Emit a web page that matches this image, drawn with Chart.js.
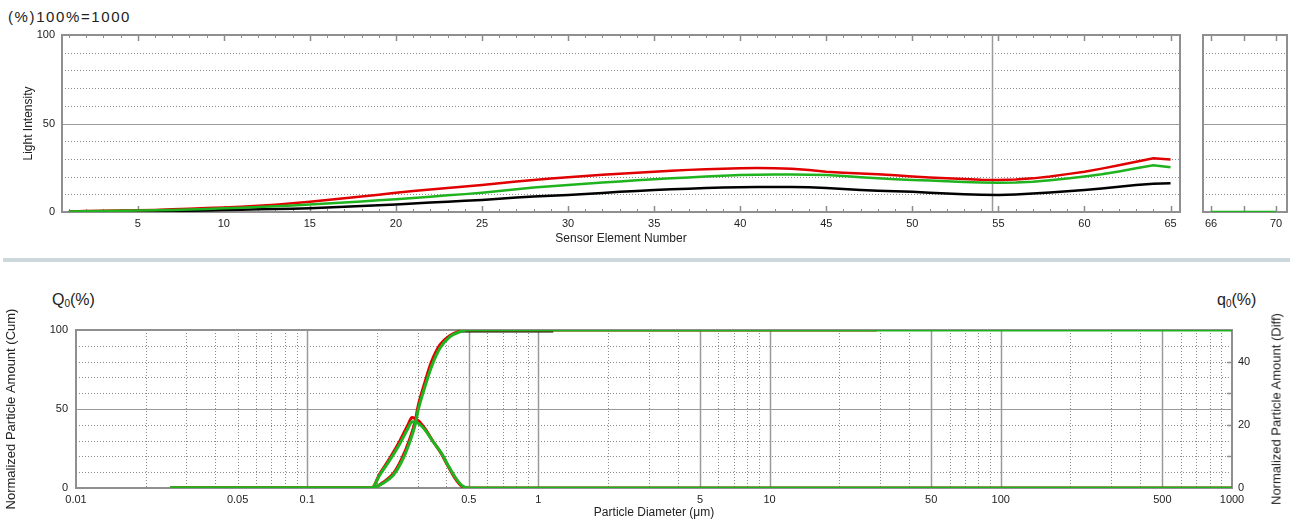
<!DOCTYPE html>
<html>
<head>
<meta charset="utf-8">
<title>Light intensity / particle distribution</title>
<script src="https://cdn.jsdelivr.net/npm/chart.js@4.4.1/dist/chart.umd.min.js"></script>
<style>
  body { margin: 0; width: 1290px; height: 524px; background: #fff; position: relative; overflow: hidden;
         font-family: "Liberation Sans", Arial, sans-serif; color: #222; }
  canvas { position: absolute; }
  .lbl { position: absolute; white-space: nowrap; color: #222; }
  #head { left: 8px; top: 8px; font-size: 15px; letter-spacing: 1.6px; }
  #sep { position: absolute; left: 3px; top: 258px; width: 1287px; height: 4px; background: #cdd8dc; }
  #Q0 { left: 52px; top: 291px; font-size: 16px; }
  #q0 { left: 1217px; top: 291px; font-size: 16px; }
  .lbl sub { font-size: 10px; vertical-align: -2px; }
  #diffTitle { left: 1276px; top: 409px; font-size: 13px; transform: translate(-50%, -50%) rotate(-90deg); }
</style>
</head>
<body>
<div class="lbl" id="head">(%)100%=1000</div>
<canvas id="top" width="1195" height="250" style="left:0;top:0"></canvas>
<canvas id="tail" width="95" height="250" style="left:1195px;top:0"></canvas>
<div id="sep"></div>
<div class="lbl" id="Q0">Q<sub>0</sub>(%)</div>
<div class="lbl" id="q0">q<sub>0</sub>(%)</div>
<canvas id="bottom" width="1290" height="244" style="left:0;top:280px"></canvas>
<div class="lbl" id="diffTitle">Normalized Particle Amount (Diff)</div>

<script>
// ---- top panel data (light intensity per sensor element) ----
const sensorElements = [1, 2, 3, 4, 5, 6, 7, 8, 9, 10, 11, 12, 13, 14, 15, 16, 17, 18, 19, 20,
  21, 22, 23, 24, 25, 26, 27, 28, 29, 30, 31, 32, 33, 34, 35, 36, 37, 38, 39, 40,
  41, 42, 43, 44, 45, 46, 47, 48, 49, 50, 51, 52, 53, 54, 55, 56, 57, 58, 59, 60,
  61, 62, 63, 64, 65]
const redIntensity = [0.3, 0.5, 0.7, 0.9, 1.0, 1.2, 1.5, 1.8, 2.2, 2.6, 3.0, 3.5, 4.1, 4.9, 5.8, 6.8, 7.8, 8.8, 9.8, 10.9,
  11.8, 12.7, 13.6, 14.4, 15.2, 16.2, 17.2, 18.1, 18.9, 19.6, 20.3, 21.0, 21.6, 22.2, 22.8, 23.3, 23.8, 24.2, 24.5, 24.7,
  24.8, 24.7, 24.4, 23.7, 22.8, 22.2, 21.7, 21.3, 20.7, 20.0, 19.5, 19.0, 18.6, 18.2, 18.1, 18.4, 19.0, 20.0, 21.4, 22.8,
  24.5, 26.4, 28.4, 30.3, 29.6]
const greenIntensity = [0.3, 0.4, 0.5, 0.65, 0.8, 1.0, 1.2, 1.45, 1.75, 2.1, 2.4, 2.8, 3.2, 3.7, 4.2, 4.8, 5.4, 6.0, 6.6, 7.2,
  7.9, 8.6, 9.4, 10.1, 10.9, 11.9, 12.9, 13.8, 14.6, 15.3, 16.0, 16.7, 17.3, 17.9, 18.5, 19.0, 19.5, 20.0, 20.5, 20.9,
  21.1, 21.2, 21.2, 21.1, 20.9, 20.3, 19.6, 19.0, 18.5, 18.1, 17.8, 17.4, 17.0, 16.7, 16.5, 16.6, 17.1, 17.9, 18.9, 20.0,
  21.3, 22.9, 24.7, 26.4, 25.3]
const blackIntensity = [0.1, 0.1, 0.2, 0.2, 0.3, 0.4, 0.5, 0.7, 0.9, 1.1, 1.3, 1.5, 1.7, 1.9, 2.1, 2.5, 2.9, 3.4, 3.8, 4.3,
  4.8, 5.3, 5.8, 6.3, 6.8, 7.5, 8.2, 8.8, 9.2, 9.6, 10.2, 10.8, 11.4, 11.9, 12.4, 12.8, 13.2, 13.6, 13.9, 14.0,
  14.1, 14.1, 14.1, 14.0, 13.5, 13.0, 12.4, 12.0, 11.7, 11.4, 10.9, 10.5, 10.0, 9.7, 9.6, 9.9, 10.4, 11.0, 11.7, 12.4,
  13.3, 14.3, 15.3, 16.0, 16.2]
const tailElements = [66, 67, 68, 69, 70]
const tailIntensity = [0, 0, 0, 0, 0]
const cursorElement = 54.6

const topXTicks = [5, 10, 15, 20, 25, 30, 35, 40, 45, 50, 55, 60, 65]
const tailXTicks = [66, 70]
const intensityTicks = [0, 50, 100]
const intensityDotted = [10, 20, 30, 40, 60, 70, 80, 90]

// ---- bottom panel data (particle size distribution) ----
const cumDiameter = [0.0255, 0.19, 0.213, 0.236, 0.256, 0.278, 0.293, 0.302, 0.323, 0.345, 0.375, 0.415, 0.458, 0.49, 1000]
const greenCum = [0, 0, 3.0, 8.2, 16.6, 29.3, 39.9, 49.4, 64.1, 76.8, 88.4, 95.8, 98.9, 100, 100]
const redCum = [0, 0, 3.6, 9.2, 18.2, 31.2, 42.0, 52.0, 67.0, 80.0, 90.6, 96.6, 99.3, 100, 100]
const redCumEnd = [0.0255, 0.19, 0.213, 0.236, 0.256, 0.278, 0.293, 0.302, 0.323, 0.345, 0.375, 0.415, 0.458, 0.49, 29.1]
const blackDiameter = [0.46, 1.16]
const blackCum = [99, 99]

const diffDiameter = [0.0255, 0.19, 0.206, 0.228, 0.252, 0.273, 0.284, 0.302, 0.323, 0.35, 0.381, 0.406, 0.435, 0.465, 0.5, 1000]
const greenDiff = [0, 0, 4.1, 8.9, 14.1, 18.9, 21.0, 20.5, 18.4, 14.7, 11.0, 7.3, 3.6, 0.9, 0, 0]
const redDiff = [0, 0, 4.5, 9.5, 15.0, 20.0, 22.3, 21.3, 18.8, 14.8, 10.8, 7.0, 3.2, 0.6, 0, 0]

const diameterTicks = [0.01, 0.05, 0.1, 0.5, 1, 5, 10, 50, 100, 500, 1000]
const diameterSolid = [0.1, 0.5, 1, 5, 10, 50, 100, 500]
const diameterDotted = [0.02, 0.03, 0.04, 0.05, 0.06, 0.07, 0.08, 0.09,
  0.2, 0.3, 0.4, 0.6, 0.7, 0.8, 0.9, 2, 3, 4, 6, 7, 8, 9,
  20, 30, 40, 60, 70, 80, 90, 200, 300, 400, 600, 700, 800, 900]
const cumTicks = [0, 50, 100]
const diffTicks = [0, 20, 40]

const RED = '#e00000', GREEN = '#1fb41f', BLACK = '#000000'
const tickFont = { family: '"Liberation Sans", Arial, sans-serif', size: 11 }
const titleFont = { family: '"Liberation Sans", Arial, sans-serif', size: 12 }

const pts = (xs, ys) => xs.map((x, i) => ({ x: x, y: ys[i] }))
const fixTicks = list => scale => { scale.ticks = list.map(v => ({ value: v })) }
const noGrid = { display: false, drawTicks: false }

// draws dotted / solid grid, frame and inner tick marks through the chart scales
const gridFrame = {
  id: 'gridFrame',
  beforeDatasetsDraw(chart, args, o) {
    const { ctx, chartArea: a } = chart
    const xs = chart.scales.x, ys = chart.scales.y
    ctx.save()
    const vline = (v, dash, color, w) => {
      const px = Math.round(xs.getPixelForValue(v)) + 0.5
      ctx.beginPath(); ctx.setLineDash(dash); ctx.strokeStyle = color; ctx.lineWidth = w
      ctx.moveTo(px, a.top); ctx.lineTo(px, a.bottom); ctx.stroke()
    }
    const hline = (v, dash, color, w) => {
      const py = Math.round(ys.getPixelForValue(v)) + 0.5
      ctx.beginPath(); ctx.setLineDash(dash); ctx.strokeStyle = color; ctx.lineWidth = w
      ctx.moveTo(a.left, py); ctx.lineTo(a.right, py); ctx.stroke()
    }
    ;(o.yDotted || []).forEach(v => hline(v, [1, 2], '#8a8a8a', 1))
    ;(o.xDotted || []).forEach(v => vline(v, [1, 2], '#8a8a8a', 1))
    ;(o.ySolid || []).forEach(v => hline(v, [], '#9a9a9a', 1.2))
    ;(o.xSolid || []).forEach(v => vline(v, [], '#9a9a9a', 1.5))
    ctx.setLineDash([])
    ctx.strokeStyle = '#8c8c8c'; ctx.lineWidth = 1
    ;(o.xTickMinor || []).forEach(v => {
      const px = Math.round(xs.getPixelForValue(v)) + 0.5
      ctx.beginPath(); ctx.moveTo(px, a.top); ctx.lineTo(px, a.top + 3)
      ctx.moveTo(px, a.bottom); ctx.lineTo(px, a.bottom - 3); ctx.stroke()
    })
    ctx.lineWidth = 1.5
    ;(o.xTickMajor || []).forEach(v => {
      const px = Math.round(xs.getPixelForValue(v)) + 0.5
      ctx.beginPath(); ctx.moveTo(px, a.top); ctx.lineTo(px, a.top + 6)
      ctx.moveTo(px, a.bottom); ctx.lineTo(px, a.bottom - 6); ctx.stroke()
    })
    if (o.rightTicks) {
      const rs = chart.scales[o.rightTicks.scale]
      o.rightTicks.values.forEach(v => {
        const py = Math.round(rs.getPixelForValue(v)) + 0.5
        ctx.beginPath(); ctx.moveTo(a.right, py); ctx.lineTo(a.right - 5, py); ctx.stroke()
      })
    }
    ctx.strokeStyle = '#8f8f8f'; ctx.lineWidth = 2
    ctx.strokeRect(a.left, a.top, a.right - a.left, a.bottom - a.top)
    ctx.restore()
  }
}

const baseOptions = {
  responsive: false,
  animation: false,
  events: [],
  elements: { point: { radius: 0 }, line: { borderWidth: 2.5, tension: 0 } },
}

// top: light intensity vs sensor element
new Chart(document.getElementById('top'), {
  type: 'line',
  data: {
    datasets: [
      { data: pts(sensorElements, greenIntensity), borderColor: GREEN },
      { data: pts(sensorElements, redIntensity), borderColor: RED },
      { data: pts(sensorElements, blackIntensity), borderColor: BLACK },
    ]
  },
  options: {
    ...baseOptions,
    layout: { padding: { top: 35, right: 15, left: 0, bottom: 0 } },
    plugins: {
      legend: { display: false }, tooltip: { enabled: false },
      gridFrame: {
        yDotted: intensityDotted, ySolid: [50], xSolid: [cursorElement],
        xTickMinor: sensorElements, xTickMajor: topXTicks
      }
    },
    scales: {
      x: {
        type: 'linear', min: 0.6, max: 65.55,
        grid: noGrid, border: { display: false },
        afterBuildTicks: fixTicks(topXTicks),
        afterFit: s => { s.height = 38 },
        ticks: { autoSkip: false, maxRotation: 0, padding: 5, font: tickFont, color: '#222' },
        title: { display: true, text: 'Sensor Element Number', font: titleFont, color: '#222', padding: { top: 0, bottom: 4 } }
      },
      y: {
        min: 0, max: 100,
        grid: noGrid, border: { display: false },
        afterBuildTicks: fixTicks(intensityTicks),
        afterFit: s => { s.width = 62 },
        ticks: { padding: 7, font: tickFont, color: '#222' },
        title: { display: true, text: 'Light Intensity', font: titleFont, color: '#222', padding: { top: 21, bottom: 0 } }
      }
    }
  },
  plugins: [gridFrame]
})

// top right: sensor elements 66-70
new Chart(document.getElementById('tail'), {
  type: 'line',
  data: { datasets: [{ data: pts(tailElements, tailIntensity), borderColor: GREEN }] },
  options: {
    ...baseOptions,
    layout: { padding: { top: 35, right: 3, left: 8, bottom: 0 } },
    plugins: {
      legend: { display: false }, tooltip: { enabled: false },
      gridFrame: { yDotted: intensityDotted, ySolid: [50], xTickMajor: [66, 68, 70] }
    },
    scales: {
      x: {
        type: 'linear', min: 65.5, max: 70.67,
        grid: noGrid, border: { display: false },
        afterBuildTicks: fixTicks(tailXTicks),
        afterFit: s => { s.height = 38 },
        ticks: { autoSkip: false, maxRotation: 0, padding: 5, font: tickFont, color: '#222' }
      },
      y: { display: false, min: 0, max: 100 }
    }
  },
  plugins: [gridFrame]
})

// bottom: particle size distribution
new Chart(document.getElementById('bottom'), {
  type: 'line',
  data: {
    datasets: [
      { data: pts(cumDiameter, greenCum), borderColor: GREEN, borderWidth: 3, yAxisID: 'y' },
      { data: pts(diffDiameter, greenDiff), borderColor: GREEN, borderWidth: 3, yAxisID: 'y2' },
      { data: pts(redCumEnd, redCum), borderColor: RED, borderWidth: 3, yAxisID: 'y' },
      { data: pts(diffDiameter, redDiff), borderColor: RED, borderWidth: 3, yAxisID: 'y2' },
      { data: pts(blackDiameter, blackCum), borderColor: BLACK, borderWidth: 2, yAxisID: 'y' },
    ]
  },
  options: {
    ...baseOptions,
    elements: { point: { radius: 0 }, line: { tension: 0.35, cubicInterpolationMode: 'monotone' } },
    layout: { padding: { top: 50, right: 0, left: 0, bottom: 0 } },
    plugins: {
      legend: { display: false }, tooltip: { enabled: false },
      gridFrame: {
        yDotted: [10, 20, 30, 40, 60, 70, 80, 90], ySolid: [50],
        xDotted: diameterDotted, xSolid: diameterSolid,
        rightTicks: { scale: 'y2', values: [10, 20, 30, 40] }
      }
    },
    scales: {
      x: {
        type: 'logarithmic', min: 0.01, max: 1000,
        grid: noGrid, border: { display: false },
        afterBuildTicks: fixTicks(diameterTicks),
        afterFit: s => { s.height = 36 },
        ticks: { autoSkip: false, maxRotation: 0, padding: 5, font: tickFont, color: '#222', callback: v => String(v) },
        title: { display: true, text: 'Particle Diameter (\u03bcm)', font: titleFont, color: '#222', padding: { top: 0, bottom: 4 } }
      },
      y: {
        position: 'left', min: 0, max: 100,
        grid: noGrid, border: { display: false },
        afterBuildTicks: fixTicks(cumTicks),
        afterFit: s => { s.width = 76 },
        ticks: { padding: 8, font: tickFont, color: '#222' },
        title: { display: true, text: 'Normalized Particle Amount (Cum)', font: { ...titleFont, size: 13 }, color: '#222', padding: { top: 4, bottom: 0 } }
      },
      y2: {
        position: 'right', min: 0, max: 50,
        grid: noGrid, border: { display: false },
        afterBuildTicks: fixTicks(diffTicks),
        afterFit: s => { s.width = 58 },
        ticks: { padding: 6, font: tickFont, color: '#222' }
      }
    }
  },
  plugins: [gridFrame]
})
</script>
</body>
</html>
